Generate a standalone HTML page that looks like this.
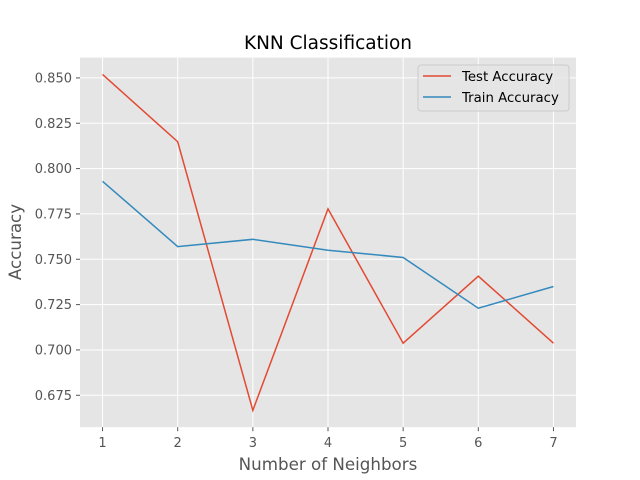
<!DOCTYPE html>
<html><head><meta charset="utf-8"><style>
body{margin:0;background:#fff;}
svg{display:block;font-family:"DejaVu Sans","Liberation Sans",sans-serif;}
</style></head><body>
<svg id="chart" width="640" height="480">
<rect x="80" y="57.6" width="496" height="369.6" fill="#E5E5E5"/>
<g id="grid"></g><g id="ticks"></g><g id="lines"></g>
<text x="328" y="49" text-anchor="middle" font-size="18.5" fill="#000">KNN Classification</text>
<text x="328" y="470" text-anchor="middle" font-size="16.7" fill="#555">Number of Neighbors</text>
<text transform="translate(21,242) rotate(-90)" text-anchor="middle" font-size="16.7" fill="#555">Accuracy</text>
<g>
<rect x="418" y="65" width="151" height="46" rx="3" fill="#E5E5E5" fill-opacity="0.8" stroke="#ccc"/>
<line x1="423" y1="76" x2="451" y2="76" stroke="#E24A33" stroke-width="1.5"/>
<text x="462" y="81" font-size="13.3" fill="#000">Test Accuracy</text>
<line x1="423" y1="97" x2="451" y2="97" stroke="#348ABD" stroke-width="1.5"/>
<text x="462" y="102" font-size="13.3" fill="#000">Train Accuracy</text>
</g>
</svg>
<script>
const neighbors=[1,2,3,4,5,6,7];
const testAcc=[0.8519,0.8148,0.6667,0.7778,0.7037,0.7407,0.7037];
const trainAcc=[0.793,0.757,0.761,0.755,0.751,0.723,0.735];
const yTicks=[0.675,0.700,0.725,0.750,0.775,0.800,0.825,0.850];
const L=80,R=576,T=57.6,B=427.2;
const xmin=0.7,xmax=7.3,ymin=0.6574,ymax=0.8612;
const xs=v=>L+(v-xmin)/(xmax-xmin)*(R-L);
const ys=v=>B-(v-ymin)/(ymax-ymin)*(B-T);
const NS='http://www.w3.org/2000/svg';
function mk(tag,attrs,parent){const e=document.createElementNS(NS,tag);for(const k in attrs)e.setAttribute(k,attrs[k]);document.getElementById(parent).appendChild(e);return e;}
neighbors.forEach(v=>{
 const g=mk('line',{x1:xs(v),x2:xs(v),y1:T,y2:B,stroke:'#fff','stroke-width':1},'grid');
 
 
 const t=mk('text',{x:xs(v),y:B+20,'text-anchor':'middle','font-size':13,fill:'#555'},'ticks');
 t.textContent=v;
 
 
 mk('line',{x1:xs(v),x2:xs(v),y1:B,y2:B+4,stroke:'#555'},'ticks');
});
yTicks.forEach(v=>{
 const g=mk('line',{x1:L,x2:R,y1:ys(v),y2:ys(v),stroke:'#fff','stroke-width':1},'grid');
 
 
 const t=mk('text',{x:L-8,y:ys(v)+4.5,'text-anchor':'end','font-size':13,fill:'#555'},'ticks');
 t.textContent=v.toFixed(3);
 
 
 mk('line',{x1:L-4,x2:L,y1:ys(v),y2:ys(v),stroke:'#555'},'ticks');
});
function series(vals,color,name){
 const p=mk('polyline',{points:vals.map((v,i)=>xs(neighbors[i])+','+ys(v)).join(' '),fill:'none',stroke:color,'stroke-width':1.5},'lines');
 
 
}
series(testAcc,'#E24A33','test-accuracy-line');
series(trainAcc,'#348ABD','train-accuracy-line');
</script>
</body></html>
